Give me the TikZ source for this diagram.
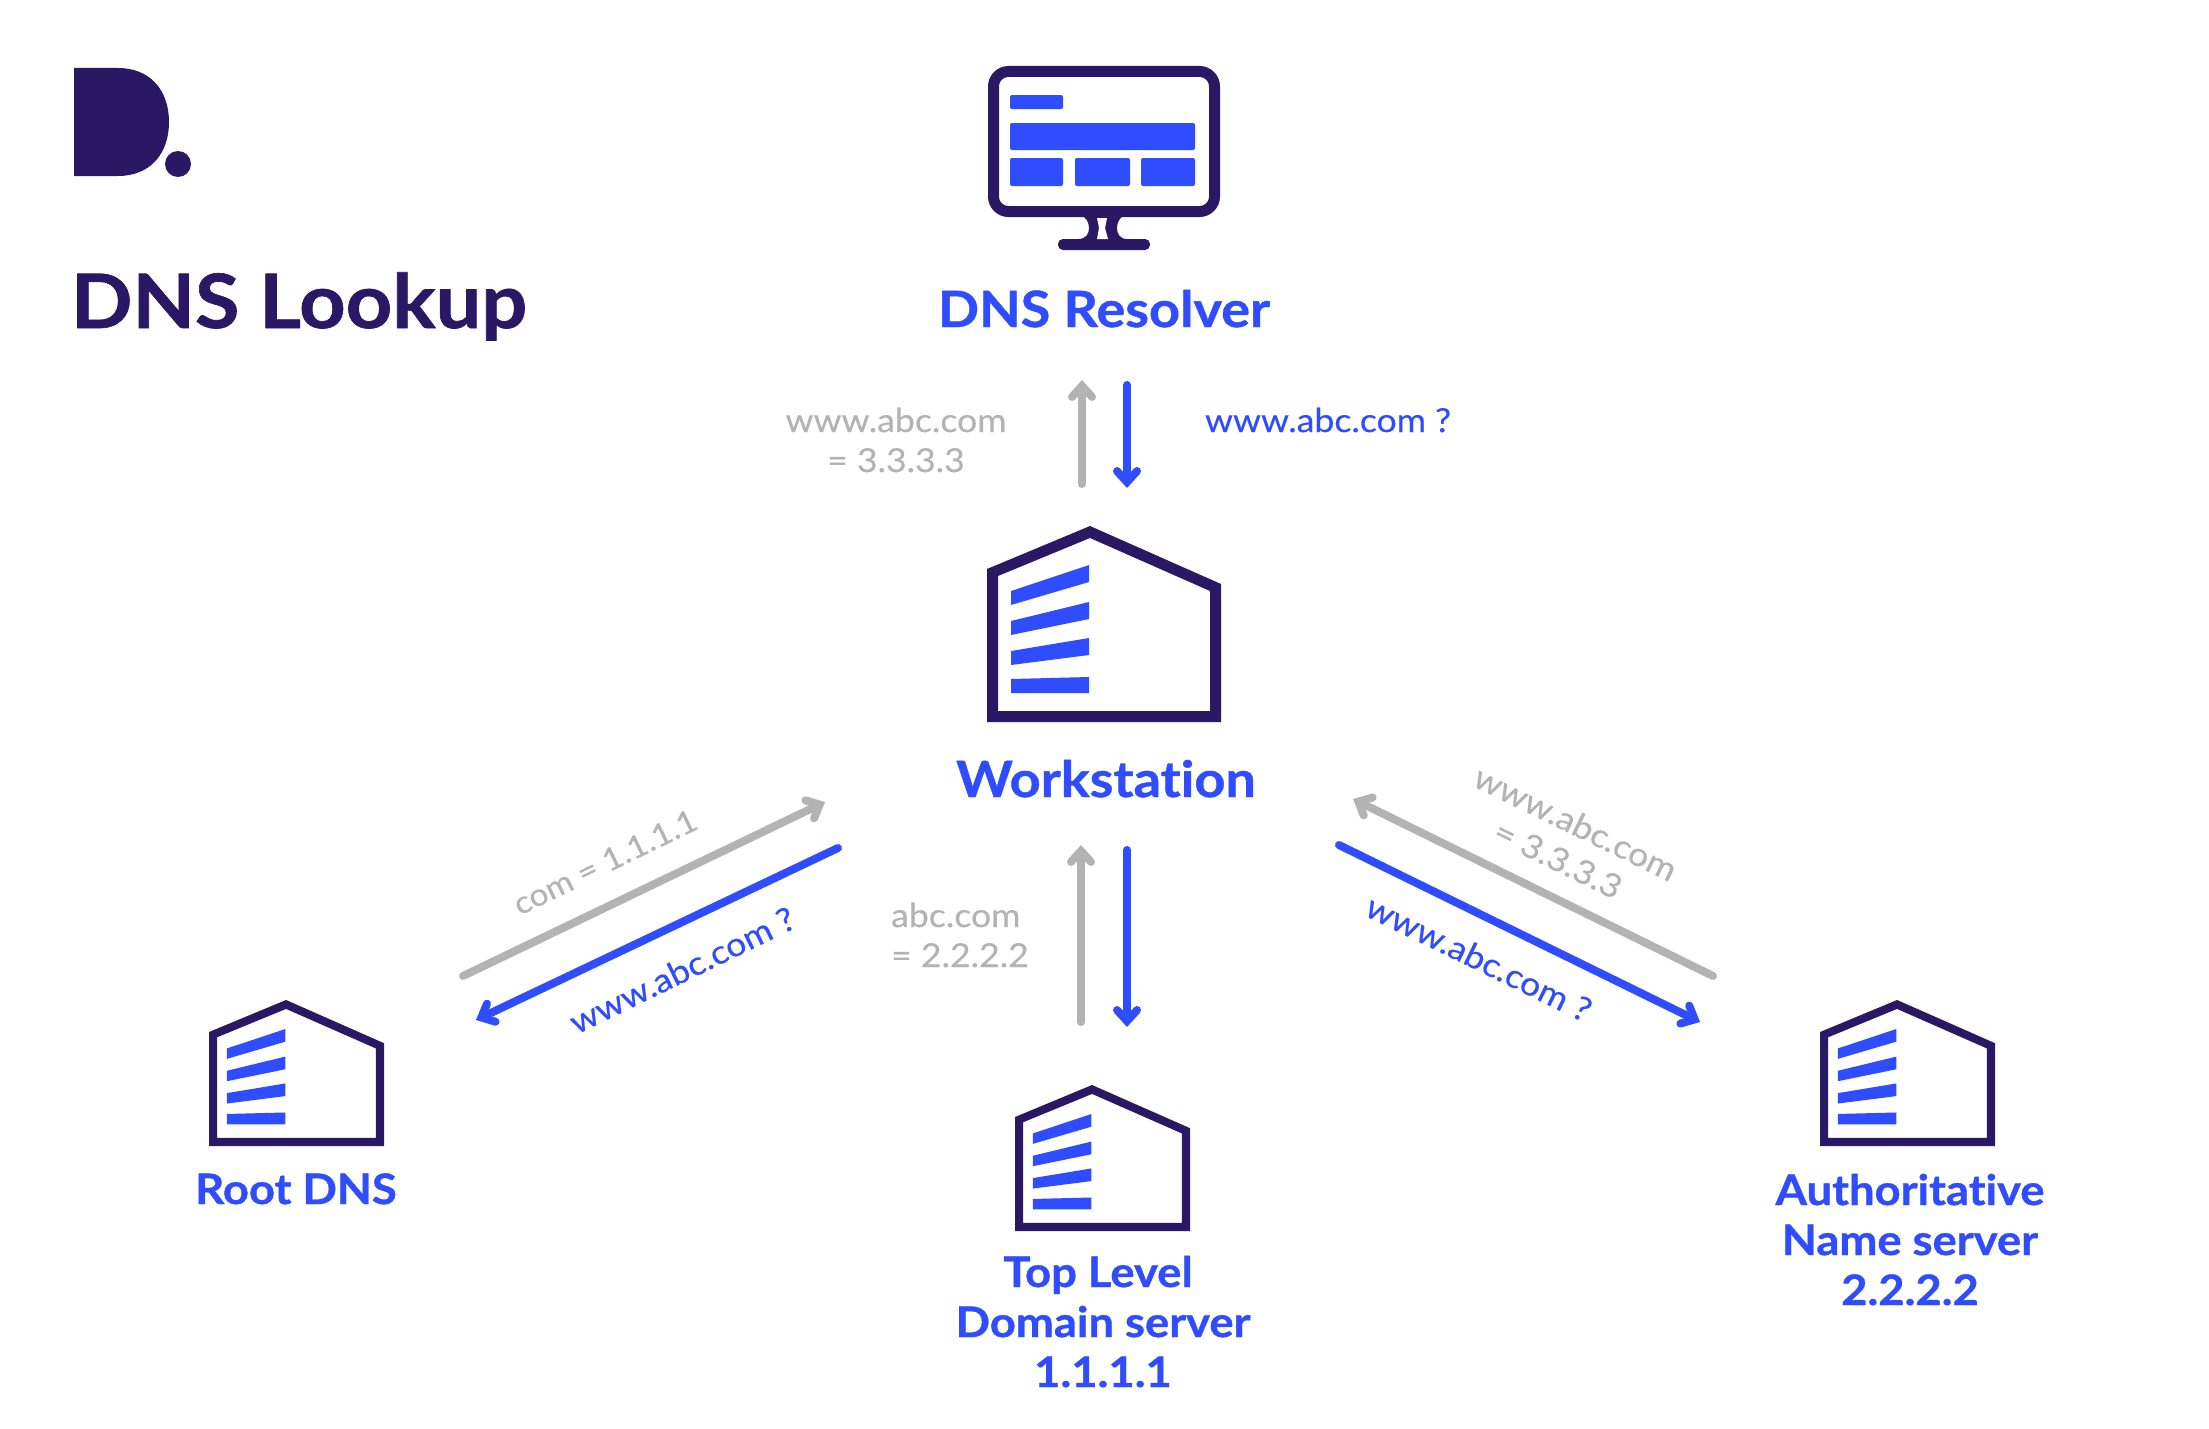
\documentclass[tikz,border=0pt]{standalone}
\usepackage{fontspec}
\setmainfont{Lato}[Ligatures=CommonOff,FakeStretch=1.08,FakeBold=0.3,BoldFeatures={FakeStretch=1.08,FakeBold=0.9}]
\usetikzlibrary{arrows.meta}
\definecolor{dnsdark}{HTML}{2A1864}
\definecolor{dnsblue}{HTML}{2F4CFF}
\definecolor{dnsgrey}{HTML}{B3B3B3}
\begin{document}
\begin{tikzpicture}
[x=1pt,y=-1pt
,bigl/.style={anchor=base,dnsblue,font=\bfseries\fontsize{50}{50}\selectfont}
,srv/.style={anchor=base,align=center,dnsblue,font=\bfseries\fontsize{42}{50}\selectfont}
,ask/.style={dnsblue,font=\fontsize{33}{40}\selectfont}
,ans/.style={dnsgrey,align=center,font=\fontsize{33}{40}\selectfont}
,ga/.style={draw=dnsgrey,line width=8pt,line cap=round,arrows={-{Straight Barb[length=11pt,width=20pt,line cap=round,line join=miter]}}}
,ba/.style={ga,draw=dnsblue}
,bar/.style={fill=dnsblue,rounded corners=2pt}
,serverbox/.pic={
  \fill[dnsdark,even odd rule] (0,0) -- (234,0) -- (234,-138) -- (103,-196) -- (0,-153) -- cycle
    (11,-11) -- (223,-11) -- (223,-131) -- (103,-184) -- (11,-146) -- cycle;
  \fill[dnsblue] (24,-131) -- (102,-157) -- (102,-140) -- (24,-117) -- cycle;
  \fill[dnsblue] (24,-101) -- (102,-120) -- (102,-103) -- (24,-87) -- cycle;
  \fill[dnsblue] (24,-71) -- (102,-84) -- (102,-67) -- (24,-57) -- cycle;
  \fill[dnsblue] (24,-43) -- (102,-45) -- (102,-29) -- (24,-29) -- cycle;
}]
\useasboundingbox (0,0) rectangle (2209,1429);
\fill[dnsdark] (74,68) -- (118,68) .. controls (150,68) and (169,90) .. (169,122)
  .. controls (169,154) and (150,176) .. (118,176) -- (74,176) -- cycle;
\fill[dnsdark] (178,164) circle (13);
\node[anchor=base,dnsdark,font=\bfseries\fontsize{75}{80}\selectfont] (title) at (299,328) {DNS Lookup};
\draw[dnsdark,line width=11pt,rounded corners=15pt] (993.5,71.5) rectangle (1214.5,211.5);
\fill[bar] (1010,95) rectangle (1063,109);
\fill[bar] (1010,123) rectangle (1195,150);
\fill[bar] (1010,158) rectangle (1063,186);
\fill[bar] (1075,158) rectangle (1130,186);
\fill[bar] (1141,158) rectangle (1195,186);
\fill[dnsdark] (1080,215) .. controls (1086,217) and (1089,222) .. (1089,228)
  .. controls (1089,234) and (1086,239) .. (1078,239) -- (1127,239)
  .. controls (1120,239) and (1117,234) .. (1117,228)
  .. controls (1117,222) and (1120,217) .. (1125,215) -- cycle;
\fill[dnsdark,rounded corners=5pt] (1058,239) rectangle (1150,250);
\fill[white] (1097,218) -- (1107,218) -- (1105,228) -- (1108,239) -- (1097,239) -- (1099,228) -- cycle;
\pic at (987,722) {serverbox};
\pic[xscale=.748,yscale=.745] at (209,1146) {serverbox};
\pic[xscale=.748,yscale=.745] at (1015,1231) {serverbox};
\pic[xscale=.748,yscale=.745] at (1820,1146) {serverbox};
\node[bigl] (resolver) at (1104,327) {DNS Resolver};
\node[bigl] (station) at (1106,797) {Workstation};
\node[srv] (root) at (296,1204) {Root DNS};
\node[srv] (tld) at (1103,1387) {Top Level\hspace*{10pt}\\Domain server\\1.1.1.1};
\node[srv] (auth) at (1910,1305) {Authoritative\\Name server\\2.2.2.2};
\coordinate (g1s) at (1082,484);
\coordinate (g1e) at (1082,380);
\coordinate (b1s) at (1127,385);
\coordinate (b1e) at (1127,488);
\coordinate (g2s) at (1081,1022);
\coordinate (g2e) at (1081,845);
\coordinate (b2s) at (1127,850);
\coordinate (b2e) at (1127,1027);
\coordinate (g3s) at (463,976);
\coordinate (g3e) at (825,802);
\coordinate (b3s) at (838,848);
\coordinate (b3e) at (476,1020);
\coordinate (g4s) at (1713,976);
\coordinate (g4e) at (1353,799);
\coordinate (b4s) at (1339,845);
\coordinate (b4e) at (1700,1022);
\draw[ga] (g1s) -- (g1e);
\draw[ba] (b1s) -- (b1e);
\draw[ga] (g2s) -- (g2e);
\draw[ba] (b2s) -- (b2e);
\draw[ga] (g3s) -- (g3e);
\draw[ba] (b3s) -- (b3e);
\draw[ga] (g4s) -- (g4e);
\draw[ba] (b4s) -- (b4e);
\node[ans] (a1) at (896,440) {www.abc.com\\= 3.3.3.3};
\node[ask] (q1) at (1328,420) {www.abc.com ?};
\node[ans,align=left] (a2) at (960,935) {abc.com\\= 2.2.2.2};
\node[ans,rotate=26,font=\fontsize{31}{40}\selectfont] (a3) at (605,862) {com = 1.1.1.1};
\node[ask,rotate=26] (q3) at (682,970) {www.abc.com ?};
\node[ans,rotate=-26] (a4) at (1567,841) {www.abc.com\\= 3.3.3.3};
\node[ask,rotate=-26] (q4) at (1479,958) {www.abc.com ?};
\end{tikzpicture}
\end{document}
